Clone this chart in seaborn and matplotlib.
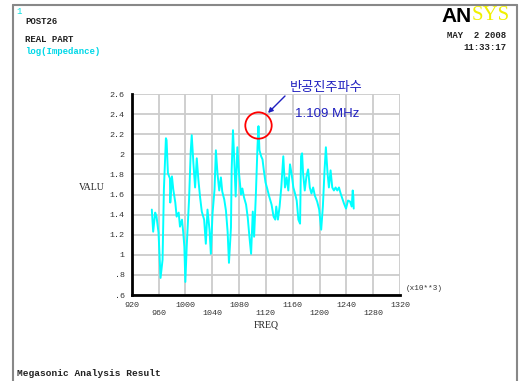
import numpy as np
import pandas as pd
import matplotlib
matplotlib.use("Agg")
import matplotlib.pyplot as plt
from matplotlib.lines import Line2D
import seaborn as sns

# ---- data ----
freq = [950, 952, 955, 957, 960, 963, 966, 968, 971, 972, 974, 977, 977.5, 980, 982,
        985, 987, 990, 992, 995, 997, 998.5, 1000, 1002, 1004, 1005.5, 1008, 1009.5,
        1012, 1014.5, 1017, 1019.5, 1022, 1024.5, 1028, 1030.5, 1033, 1036, 1038,
        1040.5, 1043.5, 1045.5, 1048, 1050.5, 1053, 1055, 1058, 1060.5, 1063, 1065,
        1068, 1069, 1071, 1073, 1075, 1077.5, 1080, 1083, 1085, 1087.5, 1090.5, 1093,
        1095.5, 1098, 1100.5, 1102.5, 1105, 1107.5, 1109, 1110.5, 1113, 1115, 1117,
        1119.5, 1122, 1125, 1128.5, 1131.5, 1134, 1135.5, 1138, 1140.5, 1143, 1146,
        1148.5, 1151, 1153.5, 1156, 1158.5, 1161, 1163.5, 1166, 1168.5, 1171, 1172.5,
        1174, 1175.5, 1178, 1180.5, 1183, 1185.5, 1188, 1190.5, 1193, 1196.5, 1199.5,
        1202.5, 1205, 1207.5, 1209.5, 1212, 1214, 1216.5, 1219, 1221.5, 1224, 1226.5,
        1229, 1231.5, 1234, 1236.5, 1239.5, 1242.5, 1245.5, 1248, 1249.5, 1250.5, 1251]
valu = [1.45, 1.23, 1.42, 1.38, 1.22, 0.77, 0.95, 1.65, 2.16, 2.14, 1.81, 1.76, 1.52,
        1.78, 1.65, 1.52, 1.38, 1.42, 1.28, 1.35, 1.21, 1.08, 0.73, 1.08, 1.35, 1.55,
        2.03, 2.19, 1.91, 1.67, 1.96, 1.74, 1.57, 1.43, 1.35, 1.11, 1.45, 1.25, 1.01,
        1.41, 1.65, 2.04, 1.80, 1.64, 1.77, 1.63, 1.55, 1.44, 1.23, 0.92, 1.27, 1.84,
        2.24, 1.93, 1.58, 2.07, 1.81, 1.60, 1.66, 1.57, 1.50, 1.37, 1.18, 1.01, 1.43,
        1.18, 1.58, 2.07, 2.28, 2.04, 1.98, 1.95, 1.84, 1.72, 1.66, 1.58, 1.50, 1.38,
        1.35, 1.48, 1.35, 1.48, 1.67, 1.98, 1.67, 1.77, 1.64, 1.90, 1.80, 1.67, 1.61,
        1.54, 1.35, 1.31, 1.98, 2.01, 1.81, 1.64, 1.78, 1.85, 1.67, 1.61, 1.67, 1.59,
        1.53, 1.45, 1.25, 1.48, 1.84, 2.07, 1.81, 1.67, 1.84, 1.67, 1.64, 1.67, 1.64,
        1.67, 1.61, 1.56, 1.51, 1.46, 1.54, 1.53, 1.48, 1.64, 1.58, 1.46]
x_ticks = [920, 960, 1000, 1040, 1080, 1120, 1160, 1200, 1240, 1280, 1320]
y_ticks = [0.6, 0.8, 1.0, 1.2, 1.4, 1.6, 1.8, 2.0, 2.2, 2.4, 2.6]
y_labels = [".6", ".8", "1", "1.2", "1.4", "1.6", "1.8", "2", "2.2", "2.4", "2.6"]
peak_label = "1.109 MHz"
peak_title = "반공진주파수"

df = pd.DataFrame({"freq": freq, "valu": valu})

sns.set_style("white")
plt.rcParams["font.family"] = ["Liberation Mono", "DejaVu Sans Mono"]

W, H = 519, 381
fig = plt.figure(figsize=(W / 100, H / 100), dpi=100)
fig.patch.set_facecolor("white")

def fx(px):
    return px / W

def fy(py):
    return 1 - py / H

ax = fig.add_axes([fx(131.7), fy(295), (400 - 131.7) / W, (295 - 94) / H])

sns.lineplot(data=df, x="freq", y="valu", ax=ax, color="#00FFFF", lw=1.4,
             sort=False, estimator=None, zorder=3)

ax.set_xlim(920, 1320)
ax.set_ylim(0.6, 2.6)
ax.set_xticks(x_ticks)
ax.set_xticklabels([str(t) if i % 2 == 0 else "\n" + str(t) for i, t in enumerate(x_ticks)],
                   fontsize=6, linespacing=1.25)
ax.set_yticks(y_ticks)
ax.set_yticklabels(y_labels, fontsize=6)
ax.tick_params(length=0, pad=5, colors="#333333")
ax.grid(True, color="#cccccc", lw=1.3, zorder=0)
ax.set_axisbelow(True)
ax.set_xlabel("")
ax.set_ylabel("")
for s in ["top", "right"]:
    ax.spines[s].set_visible(False)
for s in ["left", "bottom"]:
    ax.spines[s].set_color("black")
    ax.spines[s].set_linewidth(2.0)
    ax.spines[s].set_zorder(4)

# red circle around the peak
ip = int(np.argmax(valu))
ax.plot([freq[ip]], [valu[ip] + 0.01], marker="o", ms=19, mfc="none", mec="red",
        mew=1.3, zorder=5)

# annotation
fig.text(fx(326), fy(88), peak_title, color="#2020c0", fontsize=9.5,
         family=["Noto Sans CJK KR", "DejaVu Sans"], ha="center", va="center")
fig.text(fx(327), fy(114), peak_label, color="#2020c0", fontsize=9.5,
         family=["Liberation Sans", "DejaVu Sans"], ha="center", va="center")
ax.annotate("", xy=(fx(268), fy(113)), xycoords="figure fraction",
            xytext=(fx(285), fy(96)), textcoords="figure fraction",
            arrowprops=dict(arrowstyle="-|>", color="#2020c0", lw=1.0,
                            mutation_scale=7, shrinkA=0, shrinkB=0))

# axis labels and page texts
mono = dict(family=["Liberation Mono", "DejaVu Sans Mono"])
fig.text(fx(79), fy(188), "VALU", fontsize=7, color="#222222", va="center",
         family=["Liberation Serif", "DejaVu Serif"])
fig.text(fx(266), fy(325), "FREQ", fontsize=7, color="#222222", va="center", ha="center",
         family=["Liberation Serif", "DejaVu Serif"])
fig.text(fx(406), fy(289), "(x10**3)", fontsize=5.5, color="#333333", va="center", **mono)
fig.text(fx(16), fy(11), "1", fontsize=6.5, color="#00e0e0", va="center", **mono)
fig.text(fx(25), fy(22), "POST26", fontsize=6.5, color="#222222", va="center",
         weight="bold", **mono)
fig.text(fx(25), fy(40), "REAL PART", fontsize=6.5, color="#222222", va="center",
         weight="bold", **mono)
fig.text(fx(25), fy(52), "log(Impedance)", fontsize=6.5, color="#00d8e8", va="center",
         weight="bold", **mono)
fig.text(fx(506), fy(35), "MAY  2 2008", fontsize=6.5, color="#222222", va="center",
         ha="right", weight="bold", **mono)
fig.text(fx(506), fy(47), "11:33:17", fontsize=6.5, color="#222222", va="center",
         ha="right", weight="bold", **mono)
fig.text(fx(17), fy(373), "Megasonic Analysis Result", fontsize=6.8, color="#222222",
         va="center", weight="bold", **mono)

# ANSYS logo
fig.text(fx(472), fy(16), "AN", fontsize=15, color="black", weight="heavy", ha="right",
         va="center", family=["Liberation Sans", "DejaVu Sans"])
fig.text(fx(472), fy(16), "SYS", fontsize=15, color="#f0f000", ha="left", va="center",
         family=["Liberation Serif", "DejaVu Serif"])

# frame border
fc = "#888888"
fig.add_artist(Line2D([fx(13), fx(13)], [fy(5), fy(381)], color=fc, lw=1.5))
fig.add_artist(Line2D([fx(13), fx(517)], [fy(5), fy(5)], color=fc, lw=1.5))
fig.add_artist(Line2D([fx(517), fx(517)], [fy(5), fy(381)], color=fc, lw=1.5))

fig.savefig("out.png", dpi=100, facecolor="white")
